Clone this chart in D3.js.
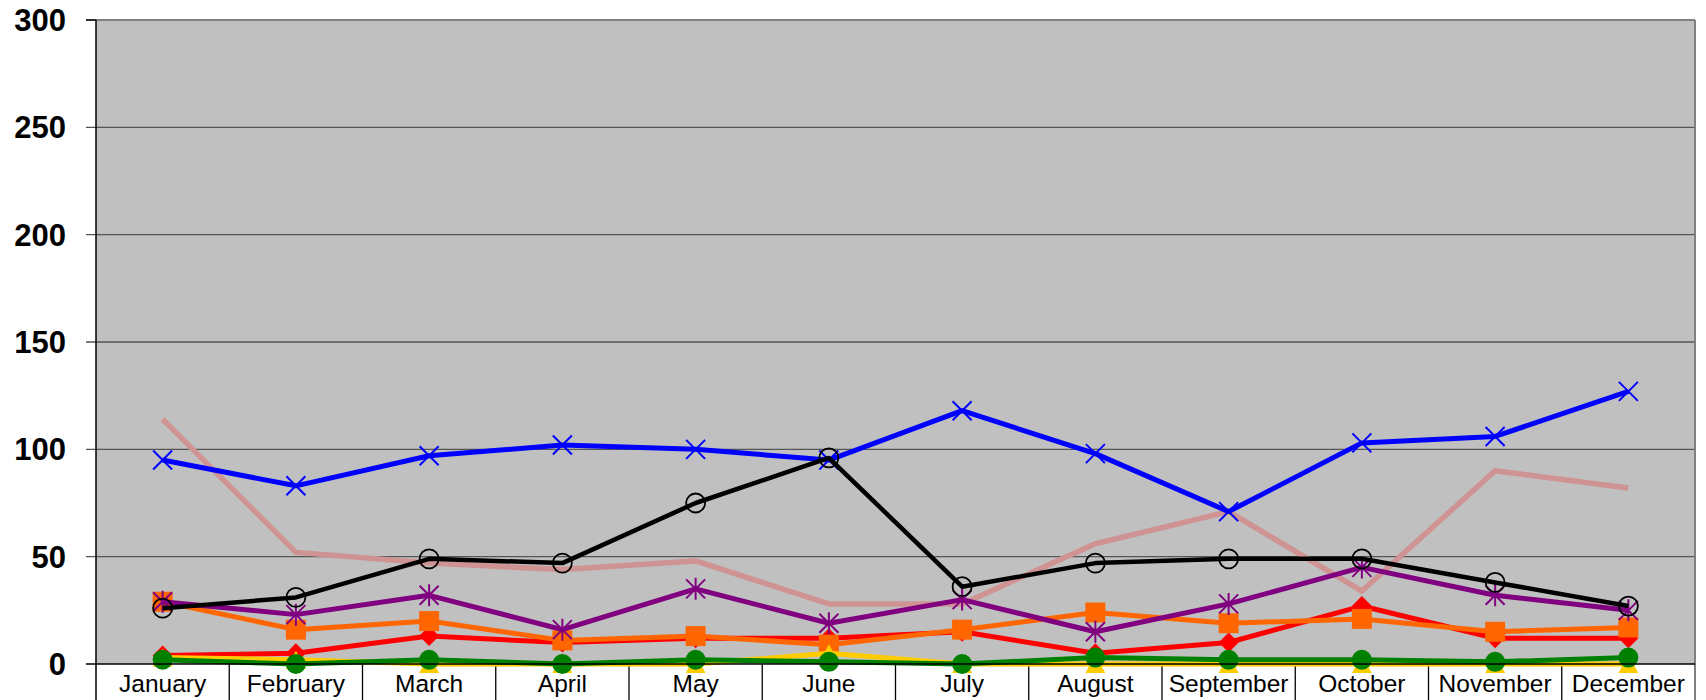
<!DOCTYPE html>
<html>
<head>
<meta charset="utf-8">
<script src="https://cdn.jsdelivr.net/npm/d3@7"></script>
<style>
  body { margin: 0; background: #fff; }
  svg { display: block; font-family: "Liberation Sans", Arial, sans-serif; }
</style>
</head>
<body>
<svg></svg>
<script>
var width = 1706,
    height = 700;
var margin = {top: 20, right: 11, bottom: 36, left: 96};

var svg = d3.select("svg")
    .attr("width", width)
    .attr("height", height);

// data
var months = ["January", "February", "March", "April", "May", "June",
    "July", "August", "September", "October", "November", "December"];
var yTicks = [0, 50, 100, 150, 200, 250, 300];

var pinkVals   = [114, 52, 47, 44, 48, 28, 28, 56, 71, 34, 90, 82];
var blueVals   = [95, 83, 97, 102, 100, 95, 118, 98, 71, 103, 106, 127];
var redVals    = [4, 5, 13, 10, 12, 12, 15, 5, 10, 27, 12, 12];
var orangeVals = [29, 16, 20, 11, 13, 9, 16, 24, 19, 21, 15, 17];
var purpleVals = [29, 23, 32, 16, 35, 19, 30, 15, 28, 45, 32, 25];
var blackVals  = [26, 31, 49, 47, 75, 96, 36, 47, 49, 49, 38, 27];
var yellowVals = [3, 2, 0, 0, 0, 5, 0, 0, 0, 0, 0, 0];
var greenVals  = [2, 0, 2, 0, 2, 1, 0, 3, 2, 2, 1, 3];

// draw order: first at the back
var series = [
    {values: pinkVals, color: "#d09393", width: 5.5, marker: "none"},
    {values: blueVals, color: "#0000ff", width: 5, marker: "x"},
    {values: redVals, color: "#ff0000", width: 5, marker: "diamond"},
    {values: orangeVals, color: "#ff6600", width: 5, marker: "square"},
    {values: purpleVals, color: "#800080", width: 5, marker: "star"},
    {values: blackVals, color: "#000000", width: 4.5, marker: "circle"},
    {values: yellowVals, color: "#ffcc00", width: 5, marker: "triangle"},
    {values: greenVals, color: "#008000", width: 5, marker: "dot"}
];

var x = d3.scaleBand()
    .domain(months)
    .range([margin.left, width - margin.right])
    .padding(0);
var y = d3.scaleLinear()
    .domain([0, 300])
    .range([height - margin.bottom, margin.top]);

var cx = d => x(d) + x.bandwidth() / 2;
var x0 = margin.left, x1 = width - margin.right;

// plot area
svg.append("rect")
    .attr("x", x0).attr("y", y(300))
    .attr("width", x1 - x0).attr("height", y(0) - y(300))
    .attr("fill", "#c0c0c0");

// gridlines + ticks
svg.selectAll(".grid")
    .data(yTicks.filter(d => d > 0 && d < 300))
    .enter().append("line")
    .attr("x1", x0 - 10).attr("x2", x1)
    .attr("y1", d => y(d)).attr("y2", d => y(d))
    .attr("stroke", "#555").attr("stroke-width", 1.3);

// borders
svg.append("line")
    .attr("x1", x0 - 10).attr("x2", x1)
    .attr("y1", y(300)).attr("y2", y(300))
    .attr("stroke", "#808080").attr("stroke-width", 2);
svg.append("line")
    .attr("x1", x0 - 10).attr("x2", x0)
    .attr("y1", y(300)).attr("y2", y(300))
    .attr("stroke", "#000").attr("stroke-width", 1.3);
svg.append("line")
    .attr("x1", x1).attr("x2", x1)
    .attr("y1", y(300)).attr("y2", height)
    .attr("stroke", "#808080").attr("stroke-width", 2);

// category separators
svg.selectAll(".sep")
    .data(months.slice(1))
    .enter().append("line")
    .attr("x1", d => x(d)).attr("x2", d => x(d))
    .attr("y1", y(0)).attr("y2", height)
    .attr("stroke", "#000").attr("stroke-width", 1.3);

// y labels
svg.selectAll(".ylab")
    .data(yTicks)
    .enter().append("text")
    .attr("x", 66)
    .attr("y", d => y(d) + 11)
    .attr("text-anchor", "end")
    .attr("font-size", 31)
    .attr("font-weight", "bold")
    .text(d => d);

// x labels
svg.selectAll(".xlab")
    .data(months)
    .enter().append("text")
    .attr("x", cx)
    .attr("y", 692)
    .attr("text-anchor", "middle")
    .attr("font-size", 24.5)
    .text(d => d);

// markers
function markerPath(type) {
    switch (type) {
        case "x": return "M-9.5,-9.5L9.5,9.5M-9.5,9.5L9.5,-9.5";
        case "star": return "M-9.5,-9.5L9.5,9.5M-9.5,9.5L9.5,-9.5M0,-11L0,11";
        case "diamond": return "M0,-10L10,0L0,10L-10,0Z";
        case "square": return "M-10,-10H10V10H-10Z";
        case "triangle": return "M0,-9L10,9L-10,9Z";
        default: return null;
    }
}

var line = d3.line()
    .x((d, i) => cx(months[i]))
    .y(d => y(d));

series.forEach(s => {
    var g = svg.append("g");
    g.append("path")
        .attr("d", line(s.values))
        .attr("fill", "none")
        .attr("stroke", s.color)
        .attr("stroke-width", s.width)
        .attr("stroke-linejoin", "round");

    if (s.marker == "none") return;
    var pts = g.selectAll(".m")
        .data(s.values)
        .enter();
    if (s.marker == "circle" || s.marker == "dot") {
        pts.append("circle")
            .attr("cx", (d, i) => cx(months[i]))
            .attr("cy", d => y(d))
            .attr("r", s.marker == "dot" ? 10 : 9.5)
            .attr("fill", s.marker == "dot" ? s.color : "none")
            .attr("stroke", s.color)
            .attr("stroke-width", s.marker == "dot" ? 0 : 1.8);
    } else {
        var stroked = s.marker == "x" || s.marker == "star";
        pts.append("path")
            .attr("transform", (d, i) => "translate(" + cx(months[i]) + "," + y(d) + ")")
            .attr("d", markerPath(s.marker))
            .attr("fill", stroked ? "none" : s.color)
            .attr("stroke", stroked ? s.color : "none")
            .attr("stroke-width", 2);
    }
});

// axes on top
svg.append("line")
    .attr("x1", x0 - 10).attr("x2", x1)
    .attr("y1", y(0)).attr("y2", y(0))
    .attr("stroke", "#000").attr("stroke-width", 1.5);
svg.append("line")
    .attr("x1", x0).attr("x2", x0)
    .attr("y1", y(300)).attr("y2", height)
    .attr("stroke", "#000").attr("stroke-width", 1.5);
</script>
</body>
</html>
